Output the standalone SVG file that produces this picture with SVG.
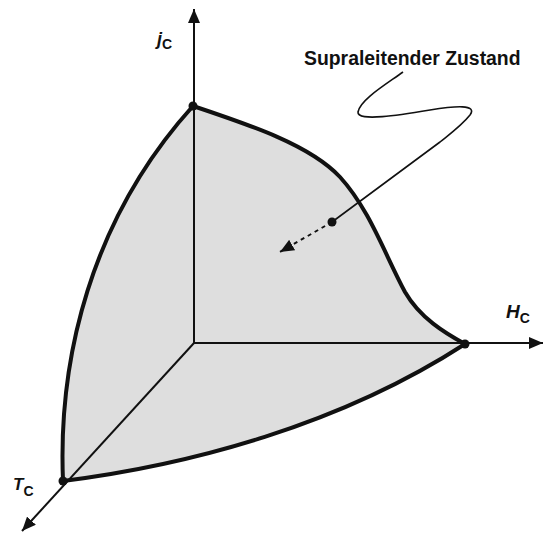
<svg xmlns="http://www.w3.org/2000/svg" width="543" height="533" viewBox="0 0 543 533">
<style>
.ax{stroke:#111;stroke-width:2;fill:none}
.edge{stroke:#111;stroke-width:4;fill:none;stroke-linejoin:round}
.lbl{font-family:"Liberation Sans",Arial,sans-serif;fill:#111;font-weight:bold}
</style>
<defs>
<marker id="ah" markerWidth="14" markerHeight="12" refX="14" refY="6" orient="auto" markerUnits="userSpaceOnUse">
<path d="M0,0 L14,6 L0,12 Z" fill="#111"/>
</marker>
</defs>
<g id="surface">
<path d="M193,106 C250,125 310,145 340,177 C370,210 385,255 405,292 C420,318 445,333 465,344 C340,425 190,465 63,481 C58,360 90,220 193,106 Z" fill="#dedede" stroke="none"/>
</g>
<g id="connectors">
<line class="ax" x1="194" y1="343" x2="194" y2="9" marker-end="url(#ah)"/>
<line class="ax" x1="194" y1="343" x2="543" y2="343" marker-end="url(#ah)"/>
<line class="ax" x1="194" y1="343" x2="22" y2="531" marker-end="url(#ah)"/>
<path d="M403,72 C385,85 360,100 358,112 C357,122 400,115 430,110 C455,106 478,104 470,115 C462,125 455,130 440,142 L332,222" stroke="#111" stroke-width="1.6" fill="none"/>
<line x1="332" y1="222" x2="280" y2="252" stroke="#111" stroke-width="2" stroke-dasharray="4,4" marker-end="url(#ah)"/>
</g>
<g id="boundary">
<path class="edge" d="M193,106 C250,125 310,145 340,177 C370,210 385,255 405,292 C420,318 445,333 465,344"/>
<path class="edge" d="M465,344 C340,425 190,465 63,481"/>
<path class="edge" d="M63,481 C58,360 90,220 193,106"/>
</g>
<g id="vertices" fill="#111">
<circle cx="193" cy="106" r="4.5"/>
<circle cx="465" cy="344" r="4.5"/>
<circle cx="63" cy="481" r="4.5"/>
<circle cx="332" cy="222" r="4.5"/>
</g>
<g id="labels">
<text class="lbl" x="157" y="45" font-size="18" font-style="italic">j<tspan font-size="14" font-style="normal" dy="4">C</tspan></text>
<text class="lbl" x="506" y="318" font-size="19" font-style="italic">H<tspan font-size="14" font-style="normal" dy="5">C</tspan></text>
<text class="lbl" x="13" y="490" font-size="17" font-style="italic">T<tspan font-size="14" font-style="normal" dy="6">C</tspan></text>
<text class="lbl" x="304" y="65" font-size="19.4">Supraleitender Zustand</text>
</g>
</svg>
